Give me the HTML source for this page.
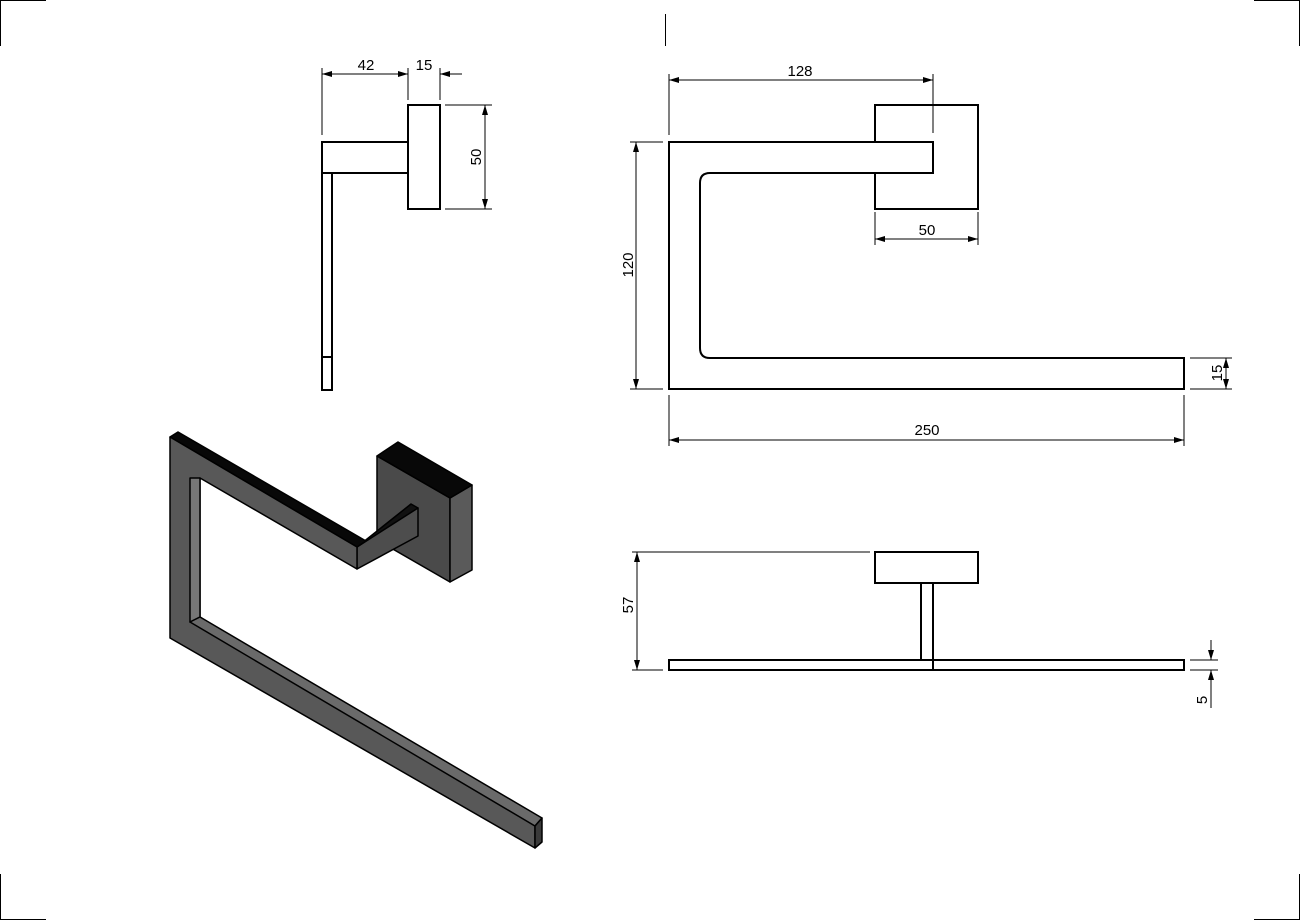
<!DOCTYPE html>
<html><head><meta charset="utf-8"><style>
html,body{margin:0;padding:0;background:#fff;}
svg{display:block;}
text{font-family:"Liberation Sans",sans-serif;font-size:15px;fill:#000;}
</style></head><body>
<svg width="1300" height="920" viewBox="0 0 1300 920" xmlns="http://www.w3.org/2000/svg">
<defs>
<marker id="a" viewBox="0 0 10 6" refX="10" refY="3" markerWidth="10" markerHeight="6" orient="auto-start-reverse" markerUnits="userSpaceOnUse"><path d="M0,0 L10,3 L0,6 Z" fill="#000"/></marker>
</defs>
<g stroke="#000" stroke-width="1" fill="none">
<path d="M0.5,0 V46 M0,0.5 H46 M1299.5,0 V46 M1254,0.5 H1300 M0.5,874 V920 M0,919.5 H46 M1299.5,874 V920 M1254,919.5 H1300 M665.5,14 V46"/>
</g>
<!-- SIDE VIEW -->
<g stroke="#000" stroke-width="2" fill="none">
<rect x="322" y="142" width="86" height="31"/>
<rect x="408" y="105" width="32" height="104"/>
<rect x="322" y="173" width="10" height="217"/>
<line x1="322" y1="357" x2="332" y2="357"/>
</g>
<g stroke="#000" stroke-width="1" fill="none">
<path d="M322,68 V135 M408,68 V100 M440,68 V100 M445,105 H492 M445,209 H492"/>
<line x1="322" y1="74" x2="408" y2="74" marker-start="url(#a)" marker-end="url(#a)"/>
<line x1="462" y1="74" x2="440" y2="74" marker-end="url(#a)"/>
<line x1="485" y1="105" x2="485" y2="209" marker-start="url(#a)" marker-end="url(#a)"/>
</g>
<text x="366" y="70" text-anchor="middle">42</text>
<text x="424" y="70" text-anchor="middle">15</text>
<text transform="translate(481,157) rotate(-90)" text-anchor="middle">50</text>
<!-- FRONT VIEW -->
<g stroke="#000" stroke-width="2" fill="none">
<rect x="875" y="105" width="103" height="104"/>
<path d="M669,142 H933 V173 H710 Q700,173 700,183 V348 Q700,358 710,358 H1184 V389 H669 Z" fill="#fff"/>
</g>
<g stroke="#000" stroke-width="1" fill="none">
<path d="M669,74 V135 M933,74 V133 M875,212 V245 M978,212 V245 M630,142 H663 M630,389 H663 M669,395 V446 M1184,395 V446 M1190,358 H1232 M1190,389 H1232"/>
<line x1="669" y1="80" x2="933" y2="80" marker-start="url(#a)" marker-end="url(#a)"/>
<line x1="875" y1="239" x2="978" y2="239" marker-start="url(#a)" marker-end="url(#a)"/>
<line x1="636" y1="142" x2="636" y2="389" marker-start="url(#a)" marker-end="url(#a)"/>
<line x1="669" y1="440" x2="1184" y2="440" marker-start="url(#a)" marker-end="url(#a)"/>
<line x1="1226" y1="358" x2="1226" y2="389" marker-start="url(#a)" marker-end="url(#a)"/>
</g>
<text x="800" y="76" text-anchor="middle">128</text>
<text x="927" y="235" text-anchor="middle">50</text>
<text transform="translate(633,265) rotate(-90)" text-anchor="middle">120</text>
<text x="927" y="435" text-anchor="middle">250</text>
<text transform="translate(1222,373) rotate(-90)" text-anchor="middle">15</text>
<!-- BOTTOM VIEW -->
<g stroke="#000" stroke-width="2" fill="none">
<rect x="875" y="552" width="103" height="31"/>
<rect x="669" y="660" width="515" height="10"/>
<path d="M921,583 V660 M933,583 V670"/>
</g>
<g stroke="#000" stroke-width="1" fill="none">
<path d="M632,552 H870 M632,670 H663 M1190,660 H1218 M1190,670 H1218"/>
<line x1="637" y1="552" x2="637" y2="670" marker-start="url(#a)" marker-end="url(#a)"/>
<line x1="1211" y1="640" x2="1211" y2="660" marker-end="url(#a)"/>
<line x1="1211" y1="708" x2="1211" y2="670" marker-end="url(#a)"/>
</g>
<text transform="translate(633,605) rotate(-90)" text-anchor="middle">57</text>
<text transform="translate(1207,700) rotate(-90)" text-anchor="middle">5</text>
<!-- ISOMETRIC -->
<g stroke="#000" stroke-width="1.5" stroke-linejoin="round">
<polygon points="377,456 450,498 450,582 377,540" fill="#4a4a4a"/>
<polygon points="450,498 472,485 472,570 450,582" fill="#5a5a5a"/>
<polygon points="377,456 398,442 472,485 450,498" fill="#080808"/>
<polygon points="357,547 411,504 418,508 364,551" fill="#111"/>
<polygon points="357,547 418,508 418,536 357,569" fill="#4d4d4d"/>
<polygon points="170,437 178,432 366,541 357,547" fill="#080808"/>
<path d="M170,437 L357,547 L357,569 L200,478 L200,617 L535,826 L535,848 L170,638 Z" fill="#585858"/>
<polygon points="190,478 200,478 200,617 190,622" fill="#777"/>
<polygon points="190,622 200,617 542,818 535,826" fill="#6a6a6a"/>
<polygon points="535,826 542,818 542,842 535,848" fill="#3a3a3a"/>
</g>
</svg>
</body></html>
